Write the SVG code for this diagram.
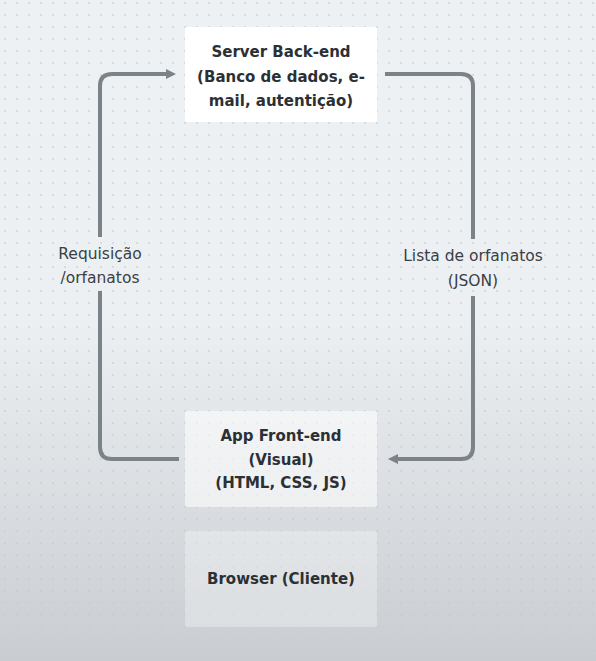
<svg xmlns="http://www.w3.org/2000/svg" width="596" height="661" viewBox="0 0 596 661">
<defs>
<linearGradient id="bg" x1="0" y1="0" x2="0" y2="1">
<stop offset="0" stop-color="#eef1f4"/>
<stop offset="0.48" stop-color="#edf0f3"/>
<stop offset="1" stop-color="#c9cdd1"/>
</linearGradient>
<pattern id="dots" width="12" height="12" patternUnits="userSpaceOnUse" x="-1" y="-3">
<circle cx="6" cy="6" r="0.9" fill="#c4c9ce" opacity="0.8"/>
</pattern>
<marker id="arr" viewBox="0 0 10 10" refX="5" refY="5" markerWidth="10" markerHeight="10" markerUnits="userSpaceOnUse" orient="auto">
<path d="M0,0 L10,5 L0,10 z" fill="#7b8288"/>
</marker>
<style>
.box{stroke:none}
.t{font-family:"DejaVu Sans",Roboto,sans-serif;font-weight:bold;font-size:15px;fill:#2b3035;text-anchor:middle}
.l{font-family:"DejaVu Sans",Roboto,sans-serif;font-size:15.5px;fill:#3b4045;text-anchor:middle}
.c{fill:none;stroke:#7b8288;stroke-width:4;stroke-linecap:butt}
</style>
</defs>
<rect width="596" height="661" fill="url(#bg)"/>
<rect width="596" height="661" fill="url(#dots)"/>
<g id="connectors">
<path class="c" d="M179,459 H112 Q100,459 100,447 V291"/>
<path class="c" d="M100,237 V86 Q100,74 112,74 H171" marker-end="url(#arr)"/>
<path class="c" d="M385,74 H461 Q473,74 473,86 V239"/>
<path class="c" d="M473,296 V447 Q473,459 461,459 H393" marker-end="url(#arr)"/>
<text class="l" x="100" y="259">Requisição</text>
<text class="l" x="100" y="283">/orfanatos</text>
<text class="l" x="473" y="261">Lista de orfanatos</text>
<text class="l" x="473" y="286">(JSON)</text>
</g>
<g id="server">
<rect class="box" x="185" y="27" width="192" height="95" rx="2" fill="#ffffff"/>
<text class="t" x="281" y="57">Server Back-end</text>
<text class="t" x="281" y="82">(Banco de dados, e-</text>
<text class="t" x="281" y="106">mail, autentição)</text>
</g>
<g id="frontend">
<rect class="box" x="185" y="411" width="192" height="96" rx="2" fill="#ffffff" fill-opacity="0.55"/>
<text class="t" x="281" y="441">App Front-end</text>
<text class="t" x="281" y="465">(Visual)</text>
<text class="t" x="281" y="488">(HTML, CSS, JS)</text>
</g>
<g id="browser">
<rect class="box" x="185" y="531" width="192" height="96" rx="2" fill="#ffffff" fill-opacity="0.3"/>
<text class="t" x="281" y="584">Browser (Cliente)</text>
</g>
</svg>
